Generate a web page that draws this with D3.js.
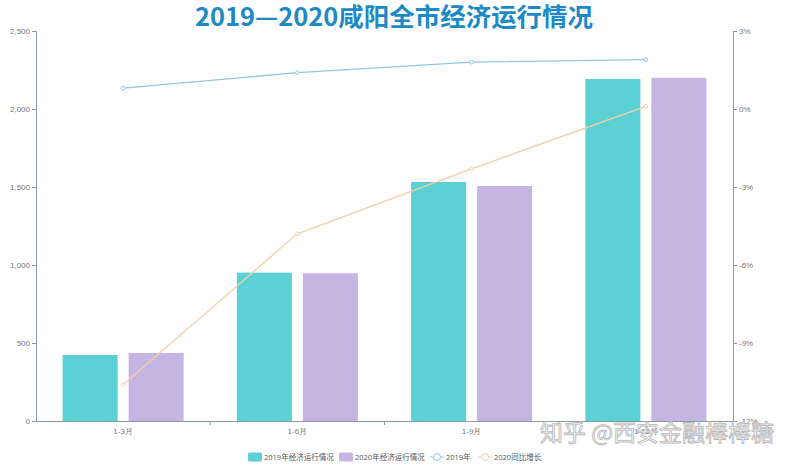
<!DOCTYPE html>
<html><head><meta charset="utf-8">
<script src="https://cdn.jsdelivr.net/npm/d3@7/dist/d3.min.js"></script>
<style>body{margin:0;background:#fff}svg{display:block;font-family:"Open Sans","Noto Sans CJK SC",sans-serif}</style>
</head><body>
<svg id="c" width="787" height="465"></svg>
<script>
const categories = ["1-3月","1-6月","1-9月","1-12月"];
const bar2019 = [423, 951, 1532, 2192];
const bar2020 = [436, 947, 1506, 2200];
const growth2019 = [0.8, 1.4, 1.8, 1.9];
const growth2020 = [-10.6, -4.8, -2.3, 0.1];
const leftTicks = [0, 500, 1000, 1500, 2000, 2500];
const rightTicks = [-12, -9, -6, -3, 0, 3];
const seriesNames = ["2019年经济运行情况","2020年经济运行情况","2019年","2020同比增长"];
const colors = ["#5bd1d5","#c4b5e3","#8fc8e3","#f4cfa6"];

const svg = d3.select("#c");
const L = 36, R = 733, T = 31, B = 421;
const x = d3.scaleBand().domain(categories).range([L, R]);
const yL = d3.scaleLinear().domain([0, 2500]).range([B, T]);
const yR = d3.scaleLinear().domain([-12, 3]).range([B, T]);

svg.append("text").attr("x", 394).attr("y", 25.5).attr("text-anchor", "middle")
  .attr("font-size", 25).attr("font-weight", "bold").attr("fill", "#1b8ac6")
  .attr("font-family", "'Noto Sans CJK SC','Open Sans',sans-serif")
  .attr("textLength", 398).attr("lengthAdjust", "spacingAndGlyphs")
  .text("2019—2020咸阳全市经济运行情况");

const gl = svg.append("g").attr("transform", `translate(${L},0)`)
  .call(d3.axisLeft(yL).tickValues(leftTicks).tickFormat(d3.format(",")).tickSize(4).tickPadding(2));
const gr = svg.append("g").attr("transform", `translate(${R},0)`)
  .call(d3.axisRight(yR).tickValues(rightTicks).tickFormat(d => d + "%").tickSize(4).tickPadding(2));
const gx = svg.append("g").attr("transform", `translate(0,${B})`)
  .call(d3.axisBottom(x).tickSize(0).tickPadding(7));
svg.append("g").selectAll("line").data(categories.slice(1)).join("line")
  .attr("x1", d => x(d)).attr("x2", d => x(d)).attr("y1", B).attr("y2", B+4)
  .attr("stroke", "#8a9aa3");
[gl, gr, gx].forEach(g => {
  g.selectAll("path.domain").attr("stroke", "#8a9aa3");
  g.selectAll(".tick line").attr("stroke", "#8a9aa3");
  g.selectAll("text").attr("fill", "#777").attr("font-size", 8);
});

const bw = 55, gap = 11;
svg.append("g").selectAll("rect").data(bar2019).join("rect")
  .attr("x", (d,i) => x(categories[i]) + x.bandwidth()/2 - gap/2 - bw)
  .attr("y", d => yL(d)).attr("width", bw).attr("height", d => B - yL(d))
  .attr("fill", colors[0]);
svg.append("g").selectAll("rect").data(bar2020).join("rect")
  .attr("x", (d,i) => x(categories[i]) + x.bandwidth()/2 + gap/2)
  .attr("y", d => yL(d)).attr("width", bw).attr("height", d => B - yL(d))
  .attr("fill", colors[1]);

const cx = i => x(categories[i]) + x.bandwidth()/2;
function drawLine(data, color) {
  const line = d3.line().x((d,i) => cx(i)).y(d => yR(d));
  svg.append("path").datum(data).attr("d", line).attr("fill", "none")
    .attr("stroke", color).attr("stroke-width", 1.3);
  svg.append("g").selectAll("circle").data(data).join("circle")
    .attr("cx", (d,i) => cx(i)).attr("cy", d => yR(d)).attr("r", 1.8)
    .attr("fill", "#fff").attr("stroke", color).attr("stroke-width", 1);
}
drawLine(growth2019, colors[2]);
drawLine(growth2020, colors[3]);

// watermark
svg.append("text").attr("x", 540).attr("y", 441).attr("font-size", 23)
  .attr("font-family", "'Noto Sans CJK SC',sans-serif")
  .attr("fill", "#fff").attr("stroke", "#b5b5b5").attr("stroke-width", 0.9)
  .attr("opacity", 0.9).text("知乎 @西安金融棒棒糖");

// legend
const lg = svg.append("g").attr("font-size", 7.5);
const items = [
  {t: seriesNames[0], type: "rect", c: colors[0], x: 248},
  {t: seriesNames[1], type: "rect", c: colors[1], x: 339},
  {t: seriesNames[2], type: "line", c: colors[2], x: 430},
  {t: seriesNames[3], type: "line", c: colors[3], x: 478}
];
const ly = 457;
items.forEach(it => {
  const lx = it.x;
  if (it.type === "rect") {
    lg.append("rect").attr("x", lx).attr("y", ly-4.5).attr("width", 14).attr("height", 9)
      .attr("rx", 1.5).attr("fill", it.c);
  } else {
    lg.append("line").attr("x1", lx).attr("x2", lx+14).attr("y1", ly).attr("y2", ly)
      .attr("stroke", it.c).attr("stroke-width", 1);
    lg.append("circle").attr("cx", lx+7).attr("cy", ly).attr("r", 3.5)
      .attr("fill", "#fff").attr("stroke", it.c).attr("stroke-width", 1);
  }
  lg.append("text").attr("x", lx+16).attr("y", ly+3).attr("fill", "#555").text(it.t);
});
</script>
</body></html>
